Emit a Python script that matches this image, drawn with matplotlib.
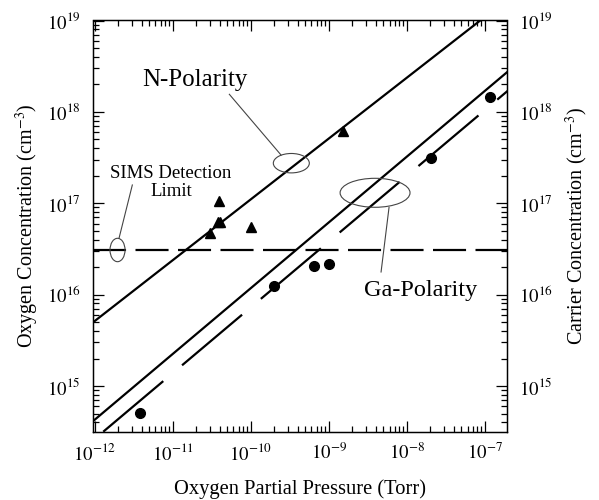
import numpy as np
import matplotlib
matplotlib.use("Agg")
import matplotlib.pyplot as plt
from matplotlib.patches import Ellipse
from matplotlib.ticker import LogLocator, FixedLocator, NullFormatter

plt.rcParams['font.family'] = ['Liberation Serif', 'DejaVu Serif']
plt.rcParams['mathtext.fontset'] = 'stix'

# ---- data ----
n_pressure = [3.0e-11, 3.85e-11, 4.1e-11, 3.9e-11, 1.0e-10, 1.52e-9]
n_oxygen = [4.75e16, 6.2e16, 6.2e16, 1.05e17, 5.5e16, 6.2e17]
ga_pressure = [3.85e-12, 1.96e-10, 6.5e-10, 1.0e-9, 2.04e-8, 1.17e-7]
ga_carrier = [5.1e14, 1.24e16, 2.06e16, 2.16e16, 3.1e17, 1.45e18]

# fitted lines: log10(y) = intercept + slope * (log10(p) - ref)
n_fit = dict(ref=-12.0, intercept=15.71, slope=0.666)
ga_fit = dict(ref=-12.0, intercept=14.63, slope=0.72)
ga_carrier_fit = dict(ref=-12.0, intercept=14.42, slope=0.72)
sims_limit = 3.05e16

xlim = (10**-12.02, 10**-6.72)
ylim = (10**14.5, 1e19)
yticks = [1e15, 1e16, 1e17, 1e18, 1e19]
xticks = [1e-12, 1e-11, 1e-10, 1e-9, 1e-8, 1e-7]


def fit_line(fit, lx):
    return 10 ** (fit['intercept'] + fit['slope'] * (lx - fit['ref']))


fig = plt.figure(figsize=(5.99, 5.00), dpi=100)
ax = fig.add_axes([0.1553, 0.1366, 0.6907, 0.8224])
ax.set_xscale('log')
ax.set_yscale('log')
ax.set_xlim(*xlim)
ax.set_ylim(*ylim)

lw = 1.6
lx = np.linspace(-12.1, -6.6, 200)
ax.plot(10 ** lx, fit_line(n_fit, lx), color='black', lw=lw, solid_capstyle='butt')
ax.plot(10 ** lx, fit_line(ga_fit, lx), color='black', lw=lw, solid_capstyle='butt')
# start dashed line at the bottom edge so the dash phase matches
lx0 = ga_carrier_fit['ref'] + (np.log10(ylim[0]) - ga_carrier_fit['intercept']) / ga_carrier_fit['slope']
lxd = np.linspace(lx0, -6.6, 200)
ax.plot(10 ** lxd, fit_line(ga_carrier_fit, lxd), color='black', lw=lw,
        ls=(0, (56.5 / lw, 17.7 / lw)), dash_capstyle='butt')
ax.plot([xlim[0], xlim[1]], [sims_limit, sims_limit], color='black', lw=lw,
        ls=(0, (23.8 / lw, 6.8 / lw)), dash_capstyle='butt')

ax.plot(n_pressure, n_oxygen, ls='none', marker='^', ms=7, color='black')
ax.plot(ga_pressure, ga_carrier, ls='none', marker='o', ms=7, color='black')

# ticks
ax.xaxis.set_major_locator(FixedLocator(xticks))
ax.yaxis.set_major_locator(FixedLocator(yticks))
ax.xaxis.set_minor_locator(LogLocator(base=10, subs=np.arange(2, 10), numticks=20))
ax.yaxis.set_minor_locator(LogLocator(base=10, subs=np.arange(2, 10), numticks=20))
ax.xaxis.set_minor_formatter(NullFormatter())
ax.yaxis.set_minor_formatter(NullFormatter())


def lab(v):
    return r'$10^{%d}$' % int(round(np.log10(v)))


ax.set_xticklabels([lab(v) for v in xticks])
ax.set_yticklabels([lab(v) for v in yticks])
ax.tick_params(which='both', direction='in', top=True, right=True, width=0.9,
               labelsize=13.5)
ax.tick_params(which='major', length=8)
ax.tick_params(which='minor', length=4.5)
ax.tick_params(axis='x', which='major', pad=8)
ax.tick_params(axis='y', which='major', pad=9)
for s in ax.spines.values():
    s.set_linewidth(1.0)

ax2 = ax.twinx()
ax2.set_yscale('log')
ax2.set_ylim(*ylim)
ax2.yaxis.set_major_locator(FixedLocator(yticks))
ax2.yaxis.set_minor_locator(LogLocator(base=10, subs=np.arange(2, 10), numticks=20))
ax2.yaxis.set_minor_formatter(NullFormatter())
ax2.set_yticklabels([lab(v) for v in yticks])
ax2.tick_params(which='both', direction='in', width=0.9, labelsize=13.5)
ax2.tick_params(which='major', length=8, pad=9)
ax2.tick_params(which='minor', length=4.5)

ax.set_xlabel('Oxygen Partial Pressure (Torr)', fontsize=14.8, labelpad=11)
ax.set_ylabel(r'Oxygen Concentration (cm$^{-3}$)', fontsize=14.5, labelpad=4)
ax2.set_ylabel(r'Carrier Concentration (cm$^{-3}$)', fontsize=14.5, labelpad=8)

# annotations
ann_color = '#444444'
ann_lw = 0.8
for (cx, cy, w, h) in [(0.4793, 0.6530, 0.087, 0.0472),
                       (0.0592, 0.4419, 0.0363, 0.0569),
                       (0.6817, 0.5810, 0.169, 0.0705)]:
    ax.add_patch(Ellipse((cx, cy), w, h, transform=ax.transAxes, fill=False,
                         edgecolor=ann_color, lw=ann_lw, zorder=5))
for (x0, y0, x1, y1) in [(0.3295, 0.8205, 0.4544, 0.6729),
                         (0.095, 0.600, 0.0628, 0.4703),
                         (0.7155, 0.5457, 0.6962, 0.3884)]:
    ax.plot([x0, x1], [y0, y1], transform=ax.transAxes, color=ann_color,
            lw=ann_lw, zorder=5)

ax.text(0.2466, 0.8553, 'N-Polarity', transform=ax.transAxes, fontsize=18,
        ha='center', va='center')
ax.text(0.1885, 0.6060, 'SIMS Detection\nLimit', transform=ax.transAxes,
        fontsize=13.5, ha='center', va='center', linespacing=1.15)
ax.text(0.7928, 0.3446, 'Ga-Polarity', transform=ax.transAxes, fontsize=17.5,
        ha='center', va='center')

fig.savefig('out.png', dpi=100)
